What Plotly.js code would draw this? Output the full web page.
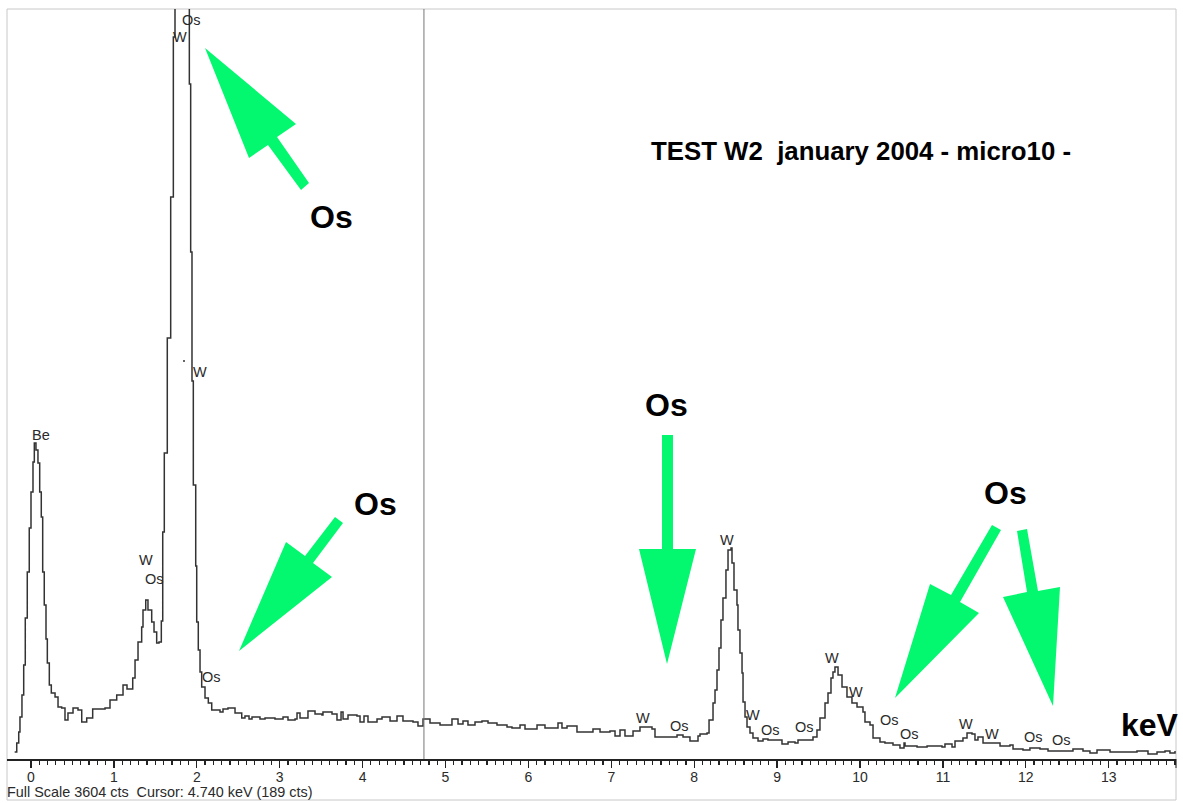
<!DOCTYPE html>
<html>
<head>
<meta charset="utf-8">
<script src="https://cdn.plot.ly/plotly-3.0.1.min.js"></script>
<style>html,body{margin:0;padding:0;background:#fff}#c{width:1183px;height:803px}</style>
</head>
<body>
<div id="c"></div>
<script>
// Spectrum: energy (keV) and counts
const energyKeV = [-0.197,-0.172,-0.148,-0.133,-0.109,-0.088,-0.069,-0.045,-0.021,0,0.024,0.04,0.06,0.084,0.105,0.124,0.141,0.16,0.181,0.197,0.221,0.245,0.29,0.326,0.37,0.41,0.446,0.507,0.567,0.612,0.672,0.744,0.893,0.953,1.034,1.11,1.158,1.227,1.255,1.291,1.335,1.351,1.384,1.411,1.456,1.484,1.516,1.544,1.572,1.589,1.608,1.644,1.685,1.717,1.737,1.91,1.926,1.942,1.958,1.987,1.999,2.018,2.039,2.059,2.099,2.139,2.18,2.28,2.316,2.376,2.461,2.542,2.581,2.63,2.666,2.762,2.823,2.943,3.04,3.1,3.185,3.209,3.245,3.341,3.426,3.51,3.522,3.631,3.691,3.74,3.764,3.824,3.932,3.969,4.017,4.065,4.174,4.234,4.331,4.415,4.487,4.608,4.668,4.729,4.813,4.934,5.078,5.151,5.211,5.271,5.356,5.44,5.513,5.621,5.742,5.802,5.899,5.959,6.104,6.2,6.357,6.405,6.466,6.586,6.707,6.779,6.864,6.984,7.045,7.105,7.165,7.262,7.346,7.431,7.491,7.527,7.624,7.793,7.865,7.949,8.046,8.07,8.155,8.179,8.227,8.251,8.275,8.299,8.323,8.347,8.383,8.408,8.444,8.456,8.48,8.516,8.528,8.552,8.577,8.589,8.613,8.637,8.673,8.709,8.77,8.83,8.89,9.035,9.059,9.132,9.216,9.252,9.361,9.433,9.481,9.517,9.578,9.614,9.65,9.674,9.698,9.735,9.783,9.843,9.903,9.964,10.036,10.06,10.121,10.157,10.241,10.301,10.398,10.482,10.531,10.543,10.688,10.809,10.989,11.025,11.11,11.146,11.242,11.291,11.351,11.387,11.423,11.484,11.592,11.689,11.809,11.846,11.966,12.05,12.171,12.268,12.413,12.569,12.69,12.774,12.859,13.016,13.172,13.341,13.474,13.583,13.679,13.739,13.8];
const counts = [34,77,130,202,308,452,678,899,1110,1283,1427,1518,1485,1422,1283,1163,899,740,577,461,356,317,298,250,245,187,221,245,235,178,197,240,245,283,308,356,336,389,476,562,634,716,764,716,658,610,557,562,663,1091,1470,2023,2700,3469,4100,3243,2436,1816,1317,927,658,524,418,346,293,269,235,226,240,245,221,197,207,192,202,192,197,192,202,187,192,221,197,231,216,211,226,216,187,226,192,211,207,178,207,178,192,202,183,207,183,178,159,192,173,163,192,168,183,163,178,183,173,163,154,149,163,144,163,149,173,149,159,130,130,144,130,135,111,139,111,135,154,154,144,106,106,115,106,86,111,120,125,187,269,332,428,533,668,774,908,1004,1014,942,812,740,620,509,413,274,202,154,125,101,86,96,91,91,72,82,77,91,91,106,139,197,269,317,389,418,442,404,346,298,269,250,226,178,163,101,82,77,67,53,77,62,58,62,58,72,58,86,101,125,120,91,106,77,77,62,67,48,43,53,48,38,38,48,38,29,43,34,34,38,24,34,38,29,38];
const fullScale = 3604;
const cursorKeV = 4.74;
const majorTicks = [0,0.5,1,1.5,2,2.5,3,3.5,4,4.5,5,5.5,6,6.5,7,7.5,8,8.5,9,9.5,10,10.5,11,11.5,12,12.5,13,13.5];
const majorText = ['0','','1','','2','','3','','4','','5','','6','','7','','8','','9','','10','','11','','12','','13',''];
const minorTicks = [];
for (let i = 0; i <= 138; i++) minorTicks.push(i / 10);

const peakNames = ['Be','W','Os','W','Os','W','Os','W','Os','W','W','Os','Os','W','W','Os','Os','W','W','Os','Os'];
const peakPx = [[41,435],[146,560],[154,579],[180,37],[191,20],[200,372],[211,677],[643,718],[679,726],[727,540],[753,715],[770,730],[804,727],[832,658],[856,692],[889,720],[909,734],[966,724],[992,734],[1033,737],[1061,740]];
const bigNames = ['Os','Os','Os','Os'];
const bigPx = [[331,217],[375,504],[667,405],[1005,493]];
const arrows = [
  [[205,48],[296,124],[277,137],[309,183],[301,190],[268,145],[249,158]],
  [[239,651],[286,542],[305,556],[335,517],[343,523],[313,563],[332,577]],
  [[667,664],[639,549],[662,549],[662,435],[673,435],[673,549],[696,549]],
  [[895,698],[930,584],[951,595],[992,525],[1001,530],[960,602],[979,613]],
  [[1053,706],[1003,597],[1027,592],[1017,531],[1027,529],[1038,591],[1060,587]]
];

const L = 7, R = 1176, T = 9, B = 759, W = 1183, H = 803;
const fx = p => (p - L) / (R - L);
const fy = p => 1 - (p - T) / (B - T);
const FONT = 'Liberation Sans, Arial, sans-serif';
const INK = '#2a2a2a';

const ann = [];
peakNames.forEach((t, i) => ann.push({text: t, xref: 'paper', yref: 'paper', x: fx(peakPx[i][0]), y: fy(peakPx[i][1]),
  showarrow: false, xanchor: 'center', yanchor: 'middle', font: {family: FONT, size: 14.5, color: INK}}));
bigNames.forEach((t, i) => ann.push({text: '<b>' + t + '</b>', xref: 'paper', yref: 'paper', x: fx(bigPx[i][0]), y: fy(bigPx[i][1]),
  showarrow: false, xanchor: 'center', yanchor: 'middle', font: {family: FONT, size: 32, color: '#000'}}));
ann.push({text: '<b>keV</b>', xref: 'paper', yref: 'paper', x: fx(1150), y: fy(725), showarrow: false, xanchor: 'center', yanchor: 'middle', font: {family: FONT, size: 32, color: '#000'}});
ann.push({text: '<b>TEST W2\u00a0\u00a0january 2004 - micro10 -</b>', xref: 'paper', yref: 'paper', x: fx(649), y: fy(151), showarrow: false, xanchor: 'left', yanchor: 'middle', font: {family: FONT, size: 25.8, color: '#000'}});
ann.push({text: 'Full Scale 3604 cts\u00a0\u00a0Cursor: 4.740 keV (189 cts)', xref: 'paper', yref: 'paper', x: fx(5), y: fy(792), showarrow: false, xanchor: 'left', yanchor: 'middle', font: {family: FONT, size: 14.4, color: INK}});

const shapes = arrows.map(a => ({type: 'path', xref: 'paper', yref: 'paper', layer: 'above', line: {width: 0}, fillcolor: '#03F86F',
  path: 'M' + a.map(p => fx(p[0]) + ',' + fy(p[1])).join('L') + 'Z'}));
shapes.push({type: 'line', xref: 'x', yref: 'paper', x0: cursorKeV, x1: cursorKeV, y0: 0, y1: 1, line: {color: '#777', width: 1}});
shapes.push({type: 'rect', xref: 'paper', yref: 'paper', x0: 0, x1: 1, y0: fy(800), y1: 1, line: {color: '#c8c8c8', width: 1}, layer: 'below'});
shapes.push({type: 'line', xref: 'paper', yref: 'paper', x0: 1, x1: 1, y0: 0, y1: fy(768), line: {color: '#222', width: 1}});
shapes.push({type: 'circle', xref: 'paper', yref: 'paper', x0: fx(183), x1: fx(185), y0: fy(362), y1: fy(360), fillcolor: '#333', line: {width: 0}});

Plotly.newPlot('c', [{
  x: energyKeV, y: counts, type: 'scatter', mode: 'lines',
  line: {shape: 'hv', color: '#333', width: 1.5}, hoverinfo: 'skip'
}], {
  width: W, height: H, paper_bgcolor: '#fff', plot_bgcolor: '#fff', showlegend: false,
  margin: {l: L, r: W - R, t: T, b: H - B, pad: 0},
  font: {family: FONT},
  xaxis: {
    range: [(L - 31) / 82.9, (R - 31) / 82.9], showgrid: false, zeroline: false,
    showline: true, linecolor: '#222', linewidth: 2,
    tickmode: 'array', tickvals: majorTicks, ticktext: majorText,
    ticks: 'outside', ticklen: 7, tickwidth: 1.2, tickcolor: '#222',
    ticklabelstandoff: -3,
    tickfont: {family: FONT, size: 14, color: INK},
    minor: {tickmode: 'array', tickvals: minorTicks, ticks: 'outside', ticklen: 4, tickwidth: 1.2, tickcolor: '#222', showgrid: false}
  },
  yaxis: {range: [0, fullScale], visible: false, fixedrange: true},
  annotations: ann, shapes: shapes
}, {displayModeBar: false, staticPlot: true});
</script>
</body>
</html>
